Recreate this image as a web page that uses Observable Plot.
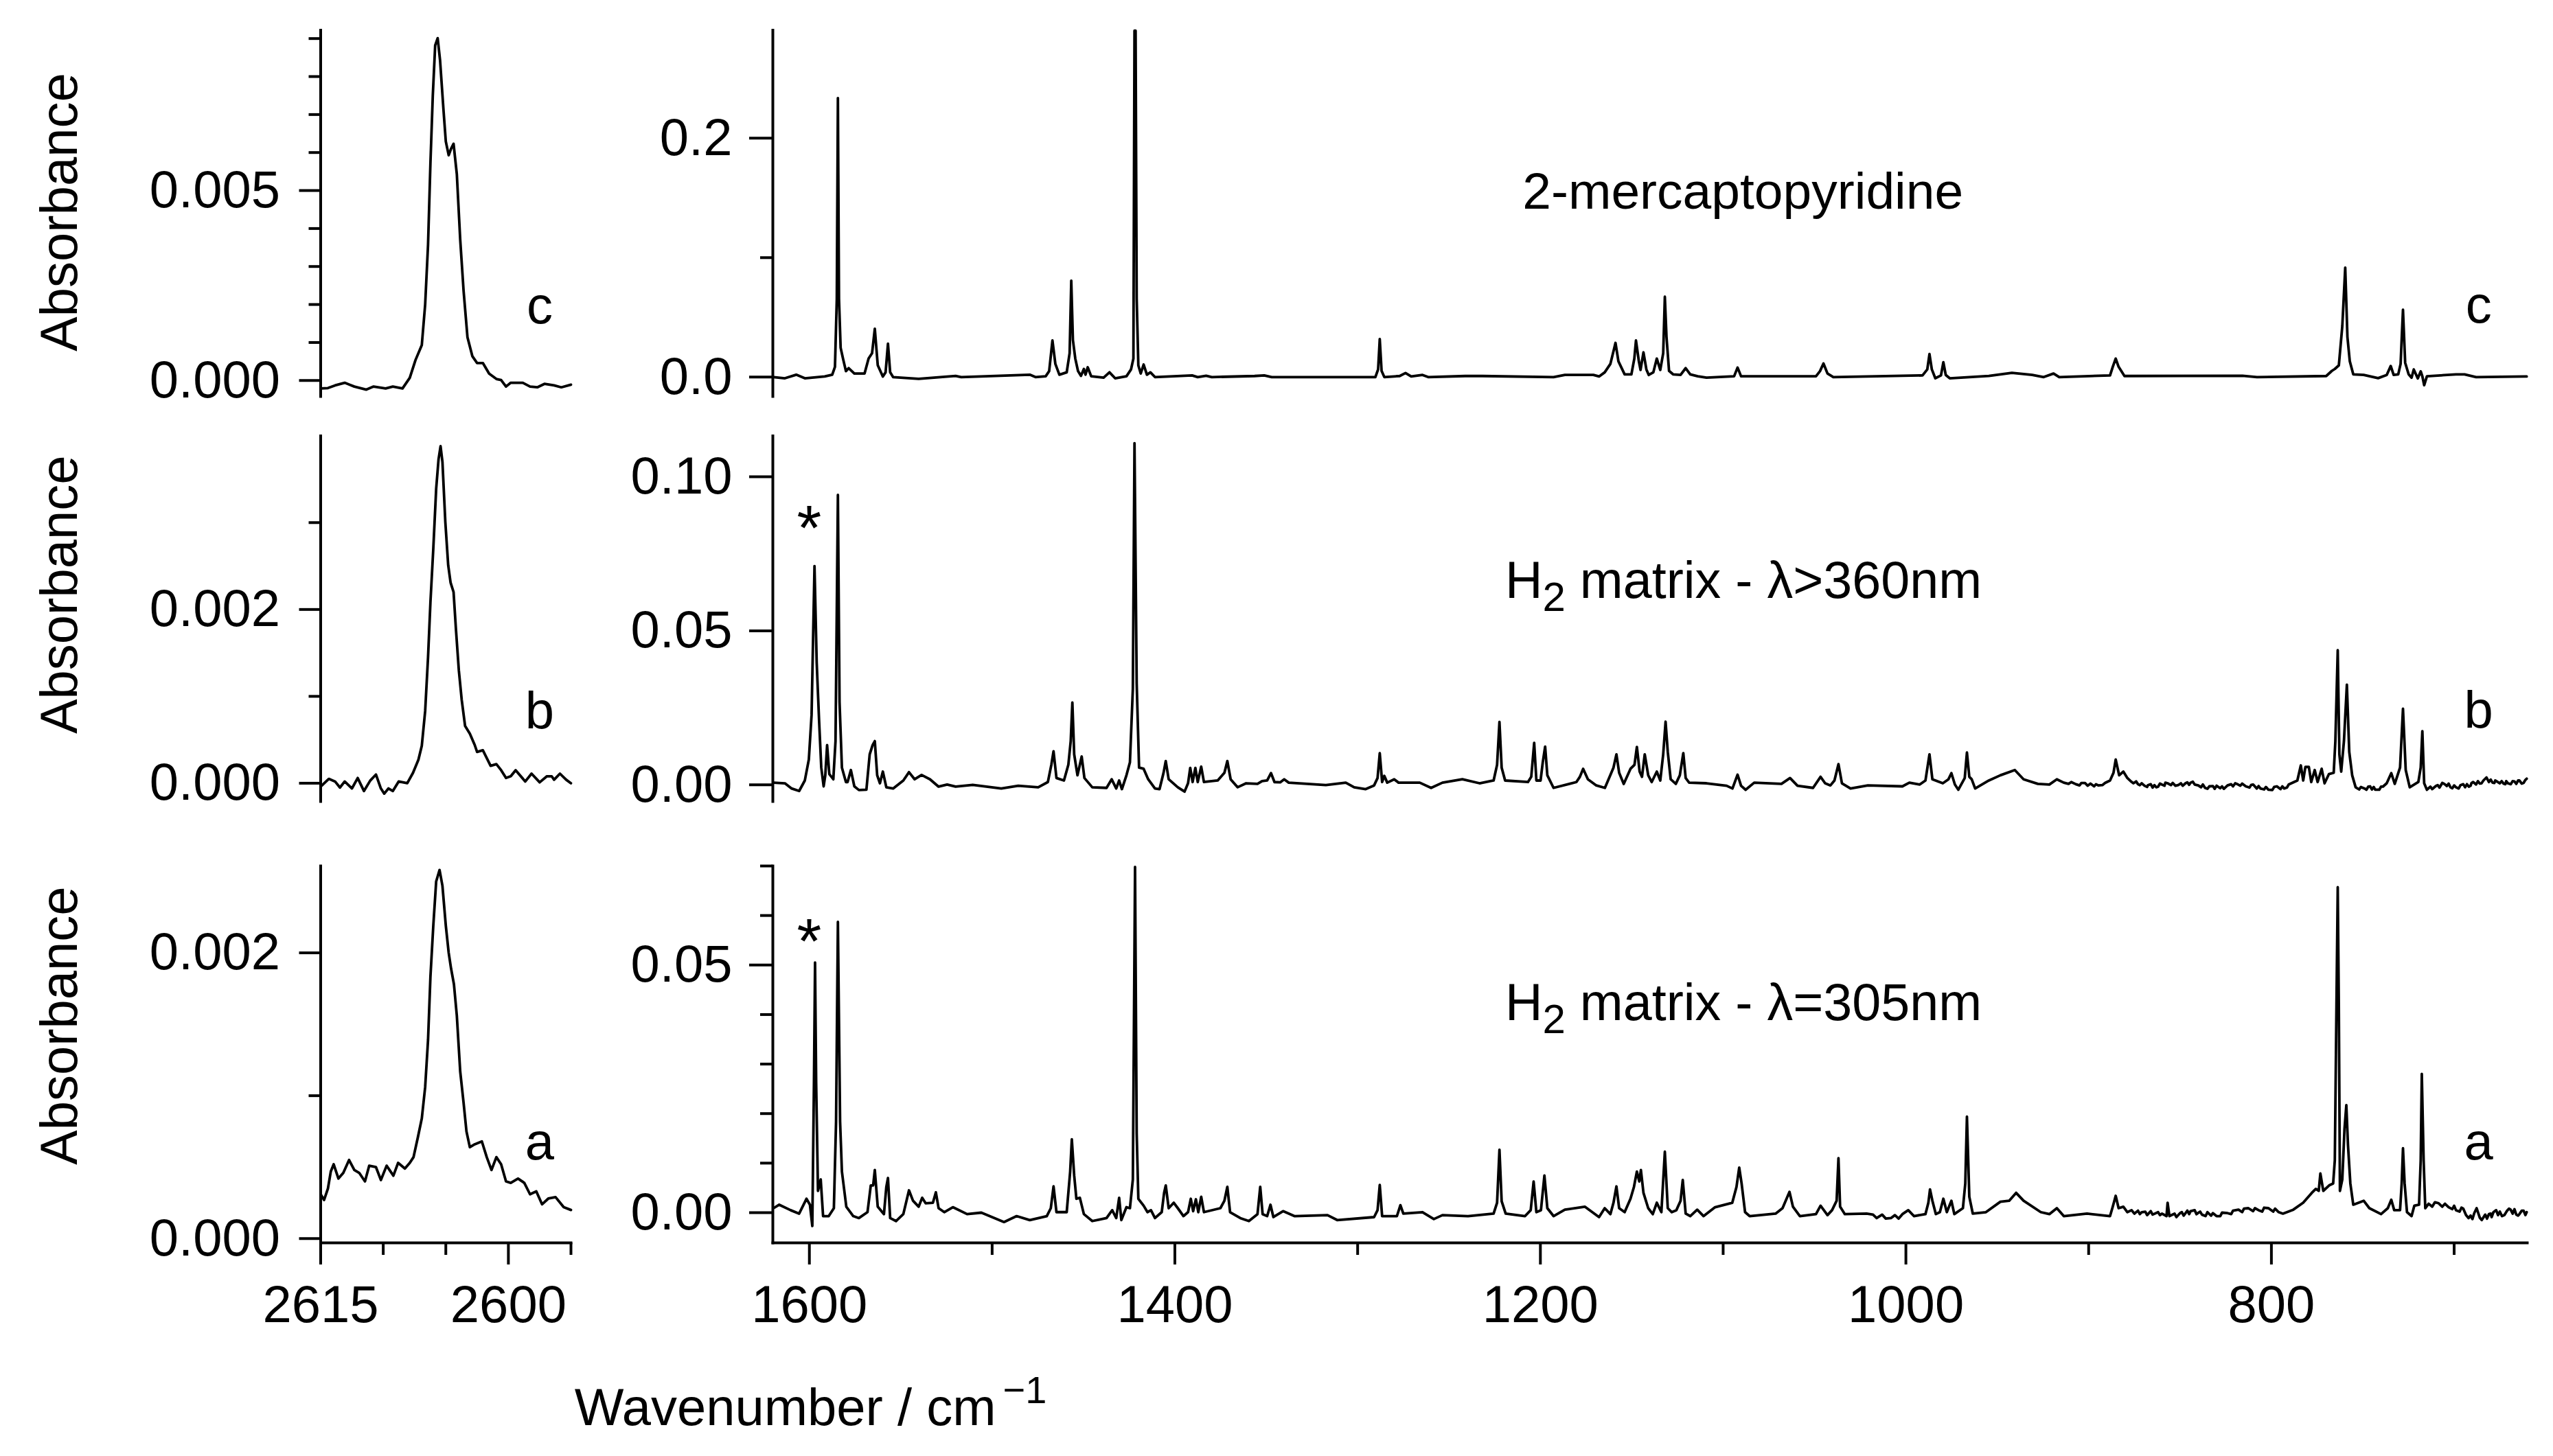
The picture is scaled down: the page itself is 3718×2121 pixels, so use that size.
<!DOCTYPE html>
<html>
<head>
<meta charset="utf-8">
<script src="https://cdn.jsdelivr.net/npm/d3@7"></script>
<script src="https://cdn.jsdelivr.net/npm/@observablehq/plot@0.6"></script>
<style>
html,body{margin:0;padding:0;background:#fff;width:3718px;height:2121px;overflow:hidden}
#page{position:relative;width:3718px;height:2121px}
#page>svg{position:absolute;overflow:visible;background:transparent}
</style>
</head>
<body>
<div id="page"></div>
<script>
// [wavenumber, absorbance] readings, mid-IR range
const midC = [[1619.6,0],[1613.4,-.001],[1607.2,.002],[1602.5,-.001],[1591.6,.0005],[1587.5,.002],[1586,.0086],[1585,.0655],[1584.4,.2336],[1583.8,.0655],[1582.9,.0245],[1581.6,.0155],[1580,.005],[1578.5,.0075],[1575.4,.003],[1569.8,.003],[1567.6,.0155],[1565.7,.02],[1564.2,.0405],[1562.6,.01],[1559.8,.0005],[1558.3,.004],[1557,.028],[1555.8,.004],[1554.2,0],[1540.2,-.0015],[1520,.001],[1516.9,0],[1479.4,.002],[1476.3,0],[1470.7,.0007],[1468.8,.005],[1467,.0307],[1465.4,.011],[1463.2,.002],[1459.2,.004],[1457.6,.02],[1456.7,.0807],[1455.8,.031],[1454.5,.0155],[1453,.005],[1451.4,.001],[1449.8,.0068],[1448.9,.002],[1447.7,.0082],[1445.8,.0007],[1439,-.0005],[1435.8,.004],[1432.7,-.001],[1426.5,.0007],[1424,.0064],[1422.7,.0155],[1422.1,.29],[1421.5,.29],[1420.9,.0655],[1420,.0098],[1418.7,.003],[1417.1,.0105],[1415.3,.002],[1413.4,.004],[1410.9,0],[1390.6,.0014],[1387.5,0],[1382.9,.0011],[1379.8,0],[1356.4,.0009],[1351.1,.0014],[1347,0],[1290.3,0],[1288.8,.0064],[1287.9,.0318],[1286.9,.0052],[1285.4,0],[1277,.0009],[1273.8,.0034],[1270.7,.0005],[1264.5,.0018],[1261.4,0],[1241.1,.0009],[1231.8,.0009],[1192.8,0],[1186.6,.0018],[1171,.0018],[1167.9,.0005],[1164.8,.004],[1161.7,.011],[1158.9,.0286],[1157.3,.0132],[1153.9,.0023],[1150.2,.0023],[1148.6,.0155],[1147.7,.0307],[1146.1,.013],[1145.2,.006],[1143.6,.0207],[1142,.0064],[1140.7,.0018],[1138.2,.004],[1136.3,.0155],[1134.4,.006],[1132.8,.02],[1131.9,.0673],[1131,.0336],[1129.6,.0052],[1127.4,.0023],[1123.3,.0018],[1120.5,.0075],[1118,.0023],[1113.9,.0007],[1109.1,-.0005],[1094,.0007],[1092.1,.008],[1090.2,.0007],[1049.2,.0007],[1047,.005],[1045.1,.0114],[1042.9,.003],[1039.7,0],[990.9,.0014],[988.3,.0064],[987.1,.0193],[985.8,.0064],[983.9,-.001],[980.8,.0014],[979.5,.0125],[978.2,.0018],[976,-.001],[954.6,.001],[942,.0036],[930.9,.0018],[924.6,0],[919.2,.003],[916.1,0],[888.3,.0014],[886.8,.0086],[885.2,.0155],[883.6,.0086],[880.4,.0009],[815.8,.0011],[807.9,0],[770,.0009],[766.9,.0052],[765.3,.0068],[763.1,.0098],[761.2,.0427],[759.6,.0916],[758.4,.0336],[757.1,.0132],[755.2,.0023],[749.5,.0018],[741.6,-.0009],[736.9,.0018],[734.7,.0093],[733.1,.0018],[730.6,.0023],[729.3,.011],[728,.0564],[726.8,.012],[724.9,.0023],[723.3,-.0005],[722.1,.0064],[719.9,-.0011],[718.3,.0048],[717.4,.0007],[716.4,-.0068],[714.9,.0007],[699,.0023],[694.3,.0023],[688,0],[660.3,.0005]];
const midBMain = [[1619.6,.0007],[1613.4,.0005],[1609.7,-.0012],[1605.6,-.002],[1602.5,.0014],[1600.3,.0082],[1598.8,.0227],[1597.2,.071],[1596,.0397],[1594.7,.021],[1593.5,.0056],[1592.2,-.0005],[1591.3,.0031],[1590.3,.0129],[1589.1,.0035],[1586.9,.0018],[1585.7,.0142],[1584.4,.0941],[1583.5,.0269],[1582.2,.0056],[1580,.0009],[1579.1,.0009],[1577.3,.0048],[1575.4,-.0005],[1572.9,-.0017],[1568.8,-.0016],[1567,.0099],[1565.4,.0129],[1564.2,.0142],[1562.9,.0031],[1561.4,.0005],[1559.8,.0043],[1557.9,-.0008],[1554.2,-.0012],[1548.6,.0014],[1545.5,.0041],[1542.4,.0018],[1538.6,.0032],[1534,.0018],[1529.3,-.0006],[1524.6,.0001],[1520,-.0006],[1510.6,0],[1495,-.0012],[1485.7,-.0003],[1474.8,-.0008],[1469.5,.0009],[1467.6,.0065],[1466.4,.0109],[1464.8,.0022],[1460.7,.0014],[1458.3,.0065],[1457,.0142],[1456.1,.0267],[1455.1,.0099],[1453.3,.0031],[1451,.0092],[1449.5,.0022],[1445.2,-.0008],[1437.4,-.001],[1434.6,.0018],[1432.1,-.0012],[1430.5,.0014],[1429,-.0014],[1426.5,.0031],[1424.6,.0073],[1423,.0312],[1422.1,.1109],[1420.9,.0329],[1419.6,.0056],[1417.1,.0052],[1414.6,.0018],[1410.9,-.0012],[1408.4,-.0014],[1406.2,.0039],[1405,.0077],[1403.4,.0018],[1398.4,-.0008],[1394.7,-.0022],[1392.8,.0005],[1391.6,.0055],[1390.3,.0009],[1388.8,.0055],[1387.5,.0009],[1385.6,.0059],[1384.1,.0009],[1376.6,.0014],[1372.9,.0039],[1371.3,.0077],[1369.5,.0018],[1365.7,-.0008],[1361,.0005],[1354.8,.0003],[1352.3,.0012],[1349.5,.0014],[1347.4,.0038],[1345.5,.0009],[1342.4,.0008],[1340.2,.0018],[1337.7,.0007],[1317.4,-.0001],[1306.5,.0007],[1301.9,-.0008],[1295.6,-.0014],[1291,-.0002],[1289.1,.0022],[1287.9,.0103],[1286.6,.0009],[1285.4,.0029],[1283.8,.0007],[1280,.0018],[1277.6,.0007],[1266,.0007],[1259.8,-.001],[1253.6,.0007],[1242.7,.0018],[1233.3,.0005],[1225.6,.0014],[1223.7,.0065],[1222.4,.0204],[1221.2,.0056],[1219.3,.0014],[1206.8,.0009],[1205,.0026],[1203.4,.0136],[1202.2,.0014],[1199.9,.0014],[1198.7,.0073],[1197.4,.0124],[1196.2,.0031],[1192.8,-.001],[1180.3,.0009],[1178.4,.0026],[1176.6,.0052],[1174,.0018],[1169.4,-.0002],[1164.7,-.001],[1160,.0056],[1158.4,.0099],[1156.9,.0039],[1154.4,.0003],[1150.7,.0052],[1148.5,.0065],[1147.2,.0123],[1145.7,.0043],[1144.4,.0026],[1142.9,.0099],[1141,.0031],[1139.1,.0009],[1136.3,.0043],[1134.4,.0014],[1132.8,.0099],[1131.5,.0205],[1130.3,.0107],[1128.7,.0018],[1125.9,.0003],[1123.7,.0031],[1121.8,.0103],[1120.5,.0022],[1118.6,.0007],[1109.1,.0005],[1098.1,-.0003],[1094.9,-.0012],[1092.1,.0033],[1090.2,-.0003],[1087.7,-.0016],[1083,.0007],[1068.1,.0003],[1063.4,.0022],[1059.3,-.0003],[1050.8,-.001],[1046.7,.0026],[1044.2,.0005],[1041.3,-.0002],[1039.1,.0014],[1036.9,.0067],[1035,.0005],[1030.3,-.0012],[1020.8,-.0002],[1001.9,-.0005],[998.1,.0007],[992.4,.0001],[989.3,.0014],[987.1,.0099],[985.5,.0018],[979.8,.0005],[976.7,.0018],[975.1,.0038],[973.2,.0001],[971.3,-.0016],[967.8,.0022],[966.6,.0105],[965.3,.0026],[964,.0018],[962.1,-.0012],[954.6,.0014],[948.3,.0031],[940.4,.0048],[935.6,.0018],[927.8,.0003],[921.5,.0001],[917.4,.0018],[913.6,.0007],[907,.0002],[902,.0006],[894.6,-.0002],[888.3,.0014],[886.4,.0039],[885.2,.0082],[883.3,.0031],[881,.0043],[878.8,.0022],[873,.0002],[869.4,-.0003],[866,.0002],[863,-.0008],[860,.0001],[856.8,.0005],[851,-.0001],[847,.0005],[844.2,.0007],[840,-.0002],[836.3,-.001],[832,-.0004],[828,-.0011],[824,-.0002],[818.9,.0003],[814,-.0005],[810,.0001],[806,-.0012],[801.6,-.0016],[797,-.0005],[793,-.0012],[790.5,.0001],[785.8,.0014],[783.9,.0063],[782.6,.0014],[781.4,.0058],[779.5,.0058],[778.2,.0009],[776.3,.0048],[774.7,.0009],[772.5,.0052],[770.9,.0005],[768.5,.0035],[765.9,.0039],[765,.0142],[763.7,.0437],[762.8,.0099],[761.8,.0043],[760.3,.0142],[758.7,.0325],[757.4,.0107],[755.8,.0031],[753.9,-.0008],[749,-.0012],[746,-.0005],[743.2,-.0016],[739,-.0006],[736.9,.0005],[734.4,.0038],[732.5,.0003],[729.6,.0056],[728,.0247],[726.5,.0048],[724.3,-.0008],[719.6,.0009],[718.3,.0056],[717.4,.0174],[716.4,.0005],[714.9,-.0016],[710,-.0004],[705.4,.0003],[702,-.0008],[699,-.0008],[695,.0002],[692,-.0006],[689.6,.0009],[686,.0004],[682.3,.0024],[679,.0007],[676.9,.0012],[673,.0004],[670.6,.0005],[667,.0011],[664.3,.0014],[662,.0006],[660.3,.002]];
const midBFine = [[911,.0003],[909.5,.0009],[905,-.0002],[904,.0006],[900.5,-.0003],[899,.0004],[897,-.0005],[896,.0002],[892.5,-.0001],[891,.0006],[877,.0012],[875.5,.0005],[874,.0011],[872,-.0001],[871,.0005],[868,-.0007],[867.5,-.0001],[865,-.0009],[864,-.0001],[862,-.0006],[861,.0004],[858.5,-.0003],[858,.0007],[855,-.0001],[854,.0006],[852.5,-.0003],[849.5,.0005],[848.5,-.0003],[846,.0008],[845,0],[843,.001],[842,.0001],[838.5,-.0008],[837.5,.0001],[835,-.0013],[834,-.0005],[831,-.0013],[830,-.0003],[827,-.0005],[826,-.0013],[822,.0002],[821,-.0005],[819.8,.0005],[817,-.0003],[816,.0004],[812,-.0009],[811,0],[808,-.0012],[807,-.0004],[804,-.0015],[803,-.0007],[799.5,-.0017],[798.5,-.0007],[795,-.0014],[794,-.0005],[791.5,-.0009],[752,-.0015],[751,-.0007],[748,-.0016],[747,-.0006],[745,-.0015],[744,-.0007],[741,-.0016],[740,-.0006],[713,-.0006],[712,-.0014],[709,-.0001],[708,-.0009],[706.5,.0006],[704,-.0004],[703,.0004],[701,-.0011],[700,-.0002],[697.5,-.0012],[696.5,-.0001],[694,-.0008],[693,.0002],[691,-.0003],[690.5,.0006],[688,.0001],[687,.0012],[685,.0005],[684,.0014],[681,.0009],[680,.0017],[678,.0006],[677.5,.0014],[675,.0005],[674,.0012],[672,.0002],[671.5,.0012],[669,.0002],[668,.0012],[666,.0003],[665,.0014],[663,.0004],[661,.0016]];
const midAMain = [[1619.6,.0009],[1616.5,.0016],[1610.3,.0005],[1605.6,-.0002],[1601.6,.0028],[1599.7,.0016],[1598.4,-.0027],[1597.5,.0263],[1596.9,.0505],[1596.3,.0263],[1595.3,.0044],[1593.8,.0067],[1592.5,-.0007],[1589.4,-.0007],[1586.6,.0009],[1585.4,.0184],[1584.4,.0587],[1583.2,.0184],[1582.2,.0083],[1579.8,.0012],[1576,-.0007],[1572.9,-.0011],[1568.2,.0001],[1566.4,.0055],[1565.1,.0055],[1564.2,.0086],[1562.6,.0012],[1559.2,-.0003],[1557.9,.0052],[1557,.007],[1555.8,-.0011],[1552.6,-.0017],[1548.6,-.0003],[1545.5,.0045],[1543.3,.0024],[1540.2,.0012],[1538.3,.003],[1536.4,.0019],[1532.4,.002],[1530.8,.0041],[1529.3,.0009],[1526.2,.0001],[1521.5,.0011],[1513.7,-.0003],[1505.9,0],[1493.5,-.0019],[1486.6,-.0007],[1479.4,-.0015],[1470.1,-.0007],[1467.9,.0009],[1466.4,.0053],[1464.8,.0001],[1459.2,.0001],[1457.3,.0083],[1456.4,.0148],[1455.1,.0075],[1453.9,.0028],[1452,.003],[1449.8,-.0003],[1445.2,-.0017],[1437.4,-.0011],[1434.3,.0005],[1432.1,-.0011],[1430.5,.003],[1429.3,-.0015],[1426.5,.0011],[1424.6,.0009],[1423,.0067],[1421.8,.0698],[1420.9,.016],[1420,.0028],[1417.1,.0014],[1415,.0001],[1413.1,.0005],[1410.9,-.0011],[1407.2,.0001],[1405.9,.004],[1405,.0055],[1403.4,.0009],[1400.6,.002],[1398.4,.0009],[1395.3,-.0007],[1392.8,.0001],[1391.3,.0028],[1390,.0003],[1388.5,.0027],[1387.2,.0001],[1385.6,.0032],[1384.1,.0001],[1375.1,.0009],[1372.9,.0024],[1371.3,.0052],[1369.8,.0001],[1364.2,-.0011],[1359.5,-.0017],[1354.8,-.0003],[1353.3,.0052],[1352,-.0003],[1349.5,-.0007],[1347.7,.0016],[1346.1,-.0009],[1340.8,.0003],[1334.6,-.0007],[1316.5,-.0005],[1311.2,-.0015],[1291,-.0009],[1289.1,.0005],[1287.9,.0056],[1286.6,-.0007],[1278.5,-.0007],[1276.6,.0015],[1275,-.0002],[1264.5,.0001],[1258.3,-.0013],[1253.6,-.0005],[1239.6,-.0007],[1225.6,-.0002],[1223.7,.002],[1222.4,.0127],[1221.2,.0023],[1219,-.0002],[1208.4,-.0007],[1205.3,.0005],[1203.7,.0063],[1202.2,.0001],[1199.7,.0005],[1197.8,.0075],[1196.2,.0009],[1192.8,-.0007],[1186.6,.0006],[1175.7,.0012],[1167.9,-.0009],[1164.8,.0009],[1161.7,-.0003],[1160,.002],[1158.4,.0053],[1156.9,.0009],[1153.9,.0001],[1150.7,.0028],[1148.8,.0052],[1147.2,.0083],[1145.9,.0063],[1145,.0086],[1143.6,.004],[1141,.0009],[1138.5,-.0003],[1136.3,.002],[1133.8,.0001],[1131.9,.0123],[1130.3,.0009],[1128.1,.0001],[1125.6,.0005],[1123.3,.0024],[1122.1,.0066],[1120.5,-.0002],[1118,-.0007],[1114.2,.0006],[1110.7,-.0007],[1104.4,.0011],[1095,.002],[1092.7,.0052],[1091.2,.0091],[1089.9,.0059],[1088,.0001],[1085.5,-.0007],[1071.3,-.0002],[1067.5,.0009],[1063.7,.0042],[1061.8,.0012],[1058,-.0007],[1049.2,-.0003],[1046.7,.0014],[1042.9,-.0005],[1040.4,.0005],[1037.9,.0024],[1036.9,.011],[1036,.0012],[1033.4,-.0003],[1021.5,-.0002],[1008.2,-.0011],[1001.9,-.0003],[998.7,.0005],[995.6,-.0007],[989.3,-.0003],[987.7,.002],[986.8,.0047],[985.5,.0024],[983.6,-.0003],[981.4,.0001],[979.5,.0028],[977.6,.0001],[975.1,.0024],[973.5,-.0003],[968.8,.0009],[967.5,.0059],[966.6,.0194],[965.3,.0032],[963.4,-.0002],[956.2,.0001],[948.3,.0022],[943.5,.0024],[939.7,.004],[935.6,.0024],[926.2,.0001],[921.5,-.0003],[917.4,.0009],[913.6,-.0007],[900.9,-.0002],[888.3,-.0007],[886.8,.0012],[885.2,.0034],[883.6,.0009],[881,.0012],[878.8,.0001],[870.9,.0001],[859.9,-.0002],[857.4,-.0007],[856.8,.002],[855.8,-.0007],[850,-.0001],[844.2,.0003],[838,-.0004],[830,-.0007],[824,-.0001],[818,.0006],[812.6,.0009],[807,.0005],[801.6,.0009],[793.7,-.0002],[788,.0006],[782.6,.002],[777.9,.004],[775.7,.0048],[774.1,.0044],[773.2,.0079],[771.6,.0044],[768.4,.0055],[766.2,.0059],[765.3,.0106],[764.4,.0418],[763.7,.0657],[763.1,.0418],[762.5,.0044],[761.2,.0067],[760,.0169],[759,.0217],[758.1,.0137],[756.8,.0059],[755.2,.0016],[749.5,.0024],[746.4,.0009],[740,-.0003],[736.3,.0009],[734.4,.0026],[732.8,.0005],[729.6,.0005],[728.7,.0059],[728,.013],[727.1,.0059],[725.8,.0001],[723.3,-.0007],[721.8,.0014],[719.2,.0016],[718.3,.0106],[717.7,.028],[716.7,.0106],[715.8,.0009],[708.5,.0019],[703,.0011],[699,.0005],[695,.0008],[692.1,-.0011],[689,-.0001],[687.7,.0009],[684.9,-.0015],[681,-.0003],[678.5,.0001],[673.8,-.0007],[671,.0004],[669.1,.0006],[666,-.0004],[664.3,-.0003],[662,.0004],[660.3,.0001]];
const midAFine = [[1018,-.0004],[1016,-.0011],[1013,-.0004],[1011,-.0012],[1006,-.0005],[1004,-.0012],[876.5,.0005],[875,-.0002],[873,.0004],[872,-.0003],[869,.0002],[868,-.0005],[866,.0003],[865,-.0004],[862,.0001],[861,-.0005],[853,-.0002],[852,-.0009],[849,.0001],[848,-.0006],[846,.0004],[845,-.0003],[842,.0005],[841,-.0003],[839,.0002],[836,-.0007],[835,.0001],[833,-.0006],[832,-.0001],[828,-.0007],[827,0],[822,-.0003],[821,.0004],[816,.0001],[815,.0008],[810,.0003],[809,.0009],[805,.0002],[804,.001],[799,.0002],[798,.0008],[796,.0001],[714,.0018],[712,.0012],[710.5,.0021],[706.5,.0012],[705,.0018],[701,.0007],[700,.0014],[697,.0002],[696,.001],[693.5,-.0005],[691,-.0006],[690,-.0013],[686,-.001],[683,-.0004],[682,-.0012],[680,-.0002],[679.5,-.0009],[677,.0005],[676,-.0005],[675,.0002],[672.5,-.0005],[670,.0008],[668,-.0002],[667,.0007],[665,-.0006],[663,.0004],[661,-.0005]];
const midB = d3.sort(midBMain.concat(midBFine),d=>-d[0]);
const midA = d3.sort(midAMain.concat(midAFine),d=>-d[0]);

// [wavenumber, absorbance] readings, S-H stretch range
const shC = [[2615,-.00021],[2614.42,-.0002],[2613.85,-.00013],[2613.08,-.00006],[2612.31,-.00016],[2611.35,-.00024],[2610.77,-.00016],[2609.81,-.00021],[2609.23,-.00016],[2608.46,-.00021],[2607.88,.00007],[2607.42,.00054],[2606.92,.00093],[2606.65,.002],[2606.42,.00357],[2606.23,.00571],[2606.04,.0075],[2605.85,.00882],[2605.65,.00901],[2605.46,.00843],[2605.19,.00714],[2605,.00629],[2604.77,.00593],[2604.58,.0061],[2604.38,.00623],[2604.12,.00543],[2603.85,.00371],[2603.58,.00236],[2603.27,.00114],[2602.88,.00064],[2602.5,.00046],[2602.04,.00046],[2601.54,.00018],[2600.96,.00004],[2600.58,.00001],[2600.19,-.00016],[2599.81,-.00006],[2598.85,-.00006],[2598.27,-.00016],[2597.69,-.00018],[2597.12,-.00009],[2596.35,-.00013],[2595.77,-.00018],[2595,-.00011]];
const shB = [[2615,-.00004],[2614.35,.00005],[2613.85,.00002],[2613.46,-.00005],[2613.08,.00002],[2612.5,-.00006],[2612.04,.00006],[2611.54,-.00009],[2611.04,.00003],[2610.58,.0001],[2610.19,-.00006],[2609.92,-.00012],[2609.58,-.00006],[2609.23,-.00009],[2608.77,.00002],[2608.08,0],[2607.62,.00012],[2607.19,.00027],[2606.92,.00043],[2606.65,.00083],[2606.42,.00145],[2606.23,.00208],[2606,.0027],[2605.77,.00339],[2605.58,.00373],[2605.42,.00388],[2605.27,.0037],[2605.04,.00301],[2604.81,.00251],[2604.62,.00231],[2604.38,.0022],[2604.19,.00177],[2603.96,.0013],[2603.73,.00096],[2603.46,.00066],[2603.08,.00057],[2602.69,.00044],[2602.5,.00036],[2602.04,.00038],[2601.42,.0002],[2600.96,.00022],[2600.58,.00015],[2600.19,.00006],[2599.81,.00008],[2599.42,.00015],[2598.65,.00002],[2598.15,.00011],[2597.5,.00001],[2596.92,.00008],[2596.54,.00008],[2596.35,.00004],[2595.88,.00011],[2595.38,.00004],[2595,0]];
const shA = [[2615,.00031],[2614.73,.00027],[2614.42,.00035],[2614.19,.00047],[2613.96,.00052],[2613.58,.00042],[2613.19,.00046],[2612.73,.00055],[2612.31,.00048],[2611.92,.00046],[2611.46,.0004],[2611.12,.00051],[2610.58,.0005],[2610.19,.00041],[2609.73,.00051],[2609.19,.00044],[2608.81,.00053],[2608.27,.00049],[2607.88,.00053],[2607.58,.00057],[2607.23,.00071],[2606.92,.00084],[2606.65,.00106],[2606.42,.00139],[2606.23,.00183],[2606,.00219],[2605.77,.0025],[2605.5,.00258],[2605.27,.00247],[2605,.00219],[2604.77,.002],[2604.58,.00189],[2604.35,.00178],[2604.12,.00156],[2603.85,.00117],[2603.58,.00095],[2603.35,.00075],[2603.08,.00064],[2602.69,.00066],[2602.12,.00068],[2601.73,.00057],[2601.35,.00048],[2600.96,.00057],[2600.58,.00052],[2600.19,.0004],[2599.81,.00039],[2599.23,.00042],[2598.73,.00039],[2598.27,.00031],[2597.77,.00033],[2597.31,.00024],[2596.81,.00028],[2596.23,.00029],[2595.58,.00022],[2595,.0002]];

// tick lists
const midMajorX = [1600,1400,1200,1000,800];
const midMinorX = [1500,1300,1100,900,700];
const shMajorX = [2615,2600];
const shMinorX = [2610,2605,2595];
const shCMajor = [0,.005], shCMinor = [.001,.002,.003,.004,.006,.007,.008,.009];
const shBMajor = [0,.002], shBMinor = [.001,.003];
const shAMajor = [0,.002], shAMinor = [.001];
const midCMajor = [0,.2], midCMinor = [.1];
const midBMajor = [0,.05,.1], midBMinor = [];
const midAMajor = [0,.05], midAMinor = [.01,.02,.03,.04,.06,.07];

const FONT = "Liberation Sans";
const FS = 76, SW = 4, LW = 3.8;

function panel(o){
  const marks = [
    Plot.line(o.data,{x:d=>d[0],y:d=>d[1],stroke:"#000",strokeWidth:LW,curve:"linear"}),
    Plot.frame({anchor:"left",stroke:"#000",strokeWidth:SW,strokeOpacity:1}),
    Plot.axisY({anchor:"left",ticks:o.major,tickSize:o.tickMajor,tickPadding:o.pad,tickFormat:d3.format(o.fmt),label:null,fontSize:FS,strokeWidth:SW,stroke:"#000",color:"#000",fill:"#000"}),
    Plot.axisY({anchor:"left",ticks:o.minor,tickSize:o.tickMinor,tickFormat:()=>"",label:null,strokeWidth:SW,stroke:"#000"}),
  ];
  if (o.xMajor) {
    marks.push(
      Plot.frame({anchor:"bottom",stroke:"#000",strokeWidth:SW,strokeOpacity:1}),
      Plot.axisX({anchor:"bottom",ticks:o.xMajor,tickSize:32,tickPadding:30,tickFormat:d3.format("d"),label:null,fontSize:FS,strokeWidth:SW,stroke:"#000",fill:"#000"}),
      Plot.axisX({anchor:"bottom",ticks:o.xMinor,tickSize:18,tickFormat:()=>"",label:null,strokeWidth:SW,stroke:"#000"})
    );
  } else {
    marks.push(Plot.axisX({ticks:[],label:null,tickSize:0}));
  }
  for (const t of o.texts||[]) {
    marks.push(Plot.text([t],{x:d=>d.x,y:d=>d.y,text:d=>d.s,fontSize:t.size||FS,fontFamily:FONT,fill:"#000",textAnchor:t.anchor||"start",lineAnchor:"bottom",rotate:t.rotate||0}));
  }
  const svg = Plot.plot({
    width:o.box[2], height:o.box[3],
    marginLeft:o.frame[0]-o.box[0], marginTop:o.frame[1]-o.box[1],
    marginRight:o.box[0]+o.box[2]-o.frame[2], marginBottom:o.box[1]+o.box[3]-o.frame[3],
    x:{domain:o.xd,axis:null}, y:{domain:o.yd,axis:null},
    style:{fontFamily:FONT,fontSize:FS+"px",color:"#000",background:"transparent",overflow:"visible"},
    marks
  });
  svg.style.left=o.box[0]+"px"; svg.style.top=o.box[1]+"px";
  document.getElementById("page").appendChild(svg);
  // sub- and superscripts inside the real text elements
  svg.querySelectorAll("text").forEach(el=>{
    const s=el.textContent;
    const target=(el.querySelector("tspan")||el);
    const add=(txt,attrs)=>{const t=document.createElementNS("http://www.w3.org/2000/svg","tspan");t.textContent=txt;for(const k in attrs)t.setAttribute(k,attrs[k]);target.appendChild(t);};
    if(s.startsWith("H2 matrix")){
      target.textContent="";
      add("H",{});add("2",{dy:19,"font-size":60});add(s.slice(2),{dy:-19});
    } else if(s.startsWith("Wavenumber")){
      target.textContent="";
      add("Wavenumber / cm",{});add("\u22121",{dy:-32,dx:10,"font-size":56});
    }
  });
}

const leftX=[466.5,831], rightX=[1125,3680];
const rows={c:[43.5,577],b:[634.5,1167],a:[1261,1810]};
const boxes={c:[0,610],b:[610,610],a:[1220,901]};
function box(col,row){return col==="l"?[0,boxes[row][0],833,boxes[row][1]]:[833,boxes[row][0],2885,boxes[row][1]];}

panel({data:shC,box:box("l","c"),frame:[leftX[0],rows.c[0],leftX[1],rows.c[1]],xd:[2615,2595],yd:[-.00042,.00922],major:shCMajor,minor:shCMinor,tickMajor:31,tickMinor:17,pad:28,fmt:".3f",
  texts:[{s:"Absorbance",x:2634.5,y:.00443,rotate:-90,anchor:"middle"},{s:"c",x:2597.5,y:.00151,anchor:"middle"}]});
panel({data:shB,box:box("l","b"),frame:[leftX[0],rows.b[0],leftX[1],rows.b[1]],xd:[2615,2595],yd:[-.00021,.003998],major:shBMajor,minor:shBMinor,tickMajor:31,tickMinor:17,pad:28,fmt:".3f",
  texts:[{s:"Absorbance",x:2634.5,y:.00217,rotate:-90,anchor:"middle"},{s:"b",x:2597.5,y:.00063,anchor:"middle"}]});
panel({data:shA,box:box("l","a"),frame:[leftX[0],rows.a[0],leftX[1],rows.a[1]],xd:[2615,2595],yd:[-.00003,.002608],major:shAMajor,minor:shAMinor,tickMajor:31,tickMinor:17,pad:28,fmt:".3f",xMajor:shMajorX,xMinor:shMinorX,
  texts:[{s:"Absorbance",x:2634.5,y:.00149,rotate:-90,anchor:"middle"},{s:"a",x:2597.5,y:.000556,anchor:"middle"}]});

panel({data:midC,box:box("r","c"),frame:[rightX[0],rows.c[0],rightX[1],rows.c[1]],xd:[1620,660],yd:[-.0162,.2904],major:midCMajor,minor:midCMinor,tickMajor:34,tickMinor:18,pad:25,fmt:".1f",
  texts:[{s:"2-mercaptopyridine",x:1209.8,y:.1407,size:75},{s:"c",x:686.6,y:.0453,anchor:"middle"}]});
panel({data:midB,box:box("r","b"),frame:[rightX[0],rows.b[0],rightX[1],rows.b[1]],xd:[1620,660],yd:[-.0054,.11326],major:midBMajor,minor:midBMinor,tickMajor:34,tickMinor:18,pad:25,fmt:".2f",
  texts:[{s:"H2 matrix - \u03BB>360nm",x:1219.3,y:.06056,size:75.5},{s:"*",x:1600.1,y:.0762,anchor:"middle",size:92},{s:"b",x:686.6,y:.01845,anchor:"middle"}]});
panel({data:midA,box:box("r","a"),frame:[rightX[0],rows.a[0],rightX[1],rows.a[1]],xd:[1620,660],yd:[-.0061,.07],major:midAMajor,minor:midAMinor,tickMajor:34,tickMinor:18,pad:25,fmt:".2f",xMajor:midMajorX,xMinor:midMinorX,
  texts:[{s:"H2 matrix - \u03BB=305nm",x:1219.3,y:.03886,size:75.5},{s:"*",x:1600.1,y:.0504,anchor:"middle",size:92},{s:"a",x:686.6,y:.0108,anchor:"middle"},{s:"Wavenumber / cm\u22121",x:1728.5,y:-.04296,size:76}]});
</script>
</body>
</html>
